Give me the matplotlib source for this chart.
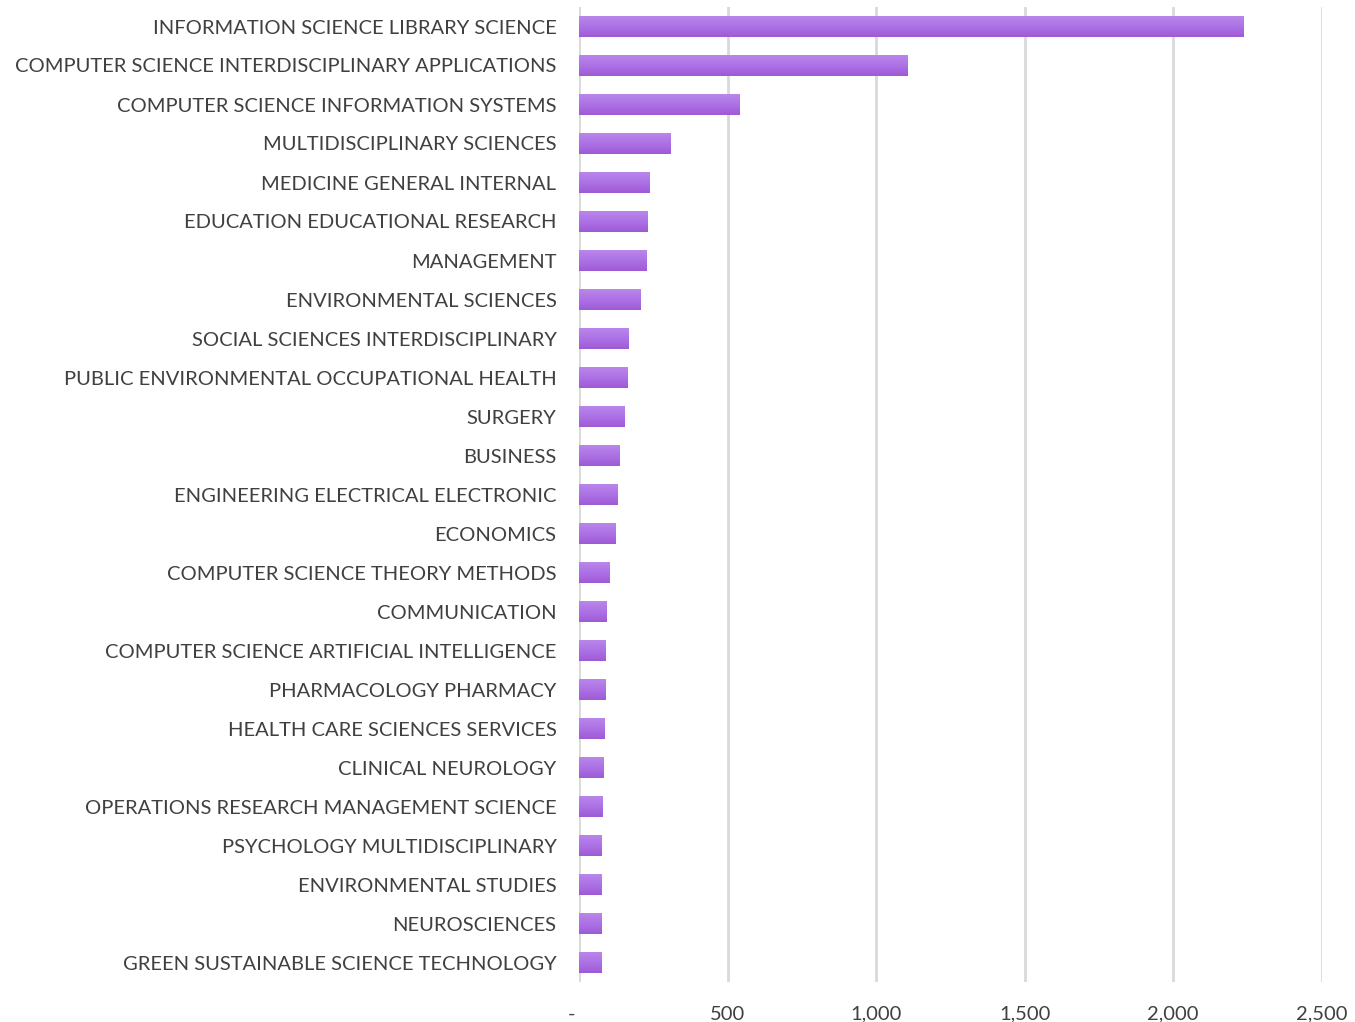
import matplotlib
matplotlib.use("Agg")
import matplotlib.pyplot as plt
import numpy as np
from matplotlib.colors import LinearSegmentedColormap
from matplotlib.ticker import FuncFormatter

categories = [
    "INFORMATION SCIENCE LIBRARY SCIENCE",
    "COMPUTER SCIENCE INTERDISCIPLINARY APPLICATIONS",
    "COMPUTER SCIENCE INFORMATION SYSTEMS",
    "MULTIDISCIPLINARY SCIENCES",
    "MEDICINE GENERAL INTERNAL",
    "EDUCATION EDUCATIONAL RESEARCH",
    "MANAGEMENT",
    "ENVIRONMENTAL SCIENCES",
    "SOCIAL SCIENCES INTERDISCIPLINARY",
    "PUBLIC ENVIRONMENTAL OCCUPATIONAL HEALTH",
    "SURGERY",
    "BUSINESS",
    "ENGINEERING ELECTRICAL ELECTRONIC",
    "ECONOMICS",
    "COMPUTER SCIENCE THEORY METHODS",
    "COMMUNICATION",
    "COMPUTER SCIENCE ARTIFICIAL INTELLIGENCE",
    "PHARMACOLOGY PHARMACY",
    "HEALTH CARE SCIENCES SERVICES",
    "CLINICAL NEUROLOGY",
    "OPERATIONS RESEARCH MANAGEMENT SCIENCE",
    "PSYCHOLOGY MULTIDISCIPLINARY",
    "ENVIRONMENTAL STUDIES",
    "NEUROSCIENCES",
    "GREEN SUSTAINABLE SCIENCE TECHNOLOGY",
]
values = [2237, 1105, 542, 309, 238, 232, 228, 208, 168, 164, 154, 137, 130, 124,
          103, 93, 90, 90, 87, 83, 80, 77, 77, 77, 77]
x_ticks = [0, 500, 1000, 1500, 2000, 2500]

plt.rcParams['font.family'] = ['Lato', 'DejaVu Sans']

fig = plt.figure(figsize=(13.55, 10.22), dpi=100)
ax = fig.add_axes([579.3/1355, 40/1022, (1321.7-579.3)/1355, 975/1022])

ypos = np.arange(len(categories))
bars = ax.barh(ypos, values, height=0.54, color='#ad6fe0', zorder=3)

cmap = LinearSegmentedColormap.from_list('g', ['#ba88e9', '#ad72e6', '#9f5ad5'])
grad = np.linspace(0, 1, 64).reshape(-1, 1)
for b in bars:
    x0, y0 = b.get_x(), b.get_y()
    w, h = b.get_width(), b.get_height()
    im = ax.imshow(grad, cmap=cmap, aspect='auto', extent=(x0, x0 + w, y0, y0 + h),
                   origin='lower', zorder=4, interpolation='bicubic')
    im.set_clip_path(b)

ax.set_xlim(0, 2500)
ax.set_ylim(len(categories) - 0.5, -0.5)
ax.set_xticks(x_ticks)
ax.xaxis.set_major_formatter(FuncFormatter(lambda v, p: '-   ' if v == 0 else f'{int(v):,}'))
ax.set_yticks(ypos)
ax.set_yticklabels(categories)
ax.grid(axis='x', color='#d9d9d9', linewidth=2, zorder=0)
for s in ax.spines.values():
    s.set_visible(False)
ax.tick_params(axis='both', length=0, labelsize=14.5, colors='#404040')
ax.tick_params(axis='y', pad=16.5)
ax.tick_params(axis='x', pad=17)

fig.savefig('out.png', dpi=100)
